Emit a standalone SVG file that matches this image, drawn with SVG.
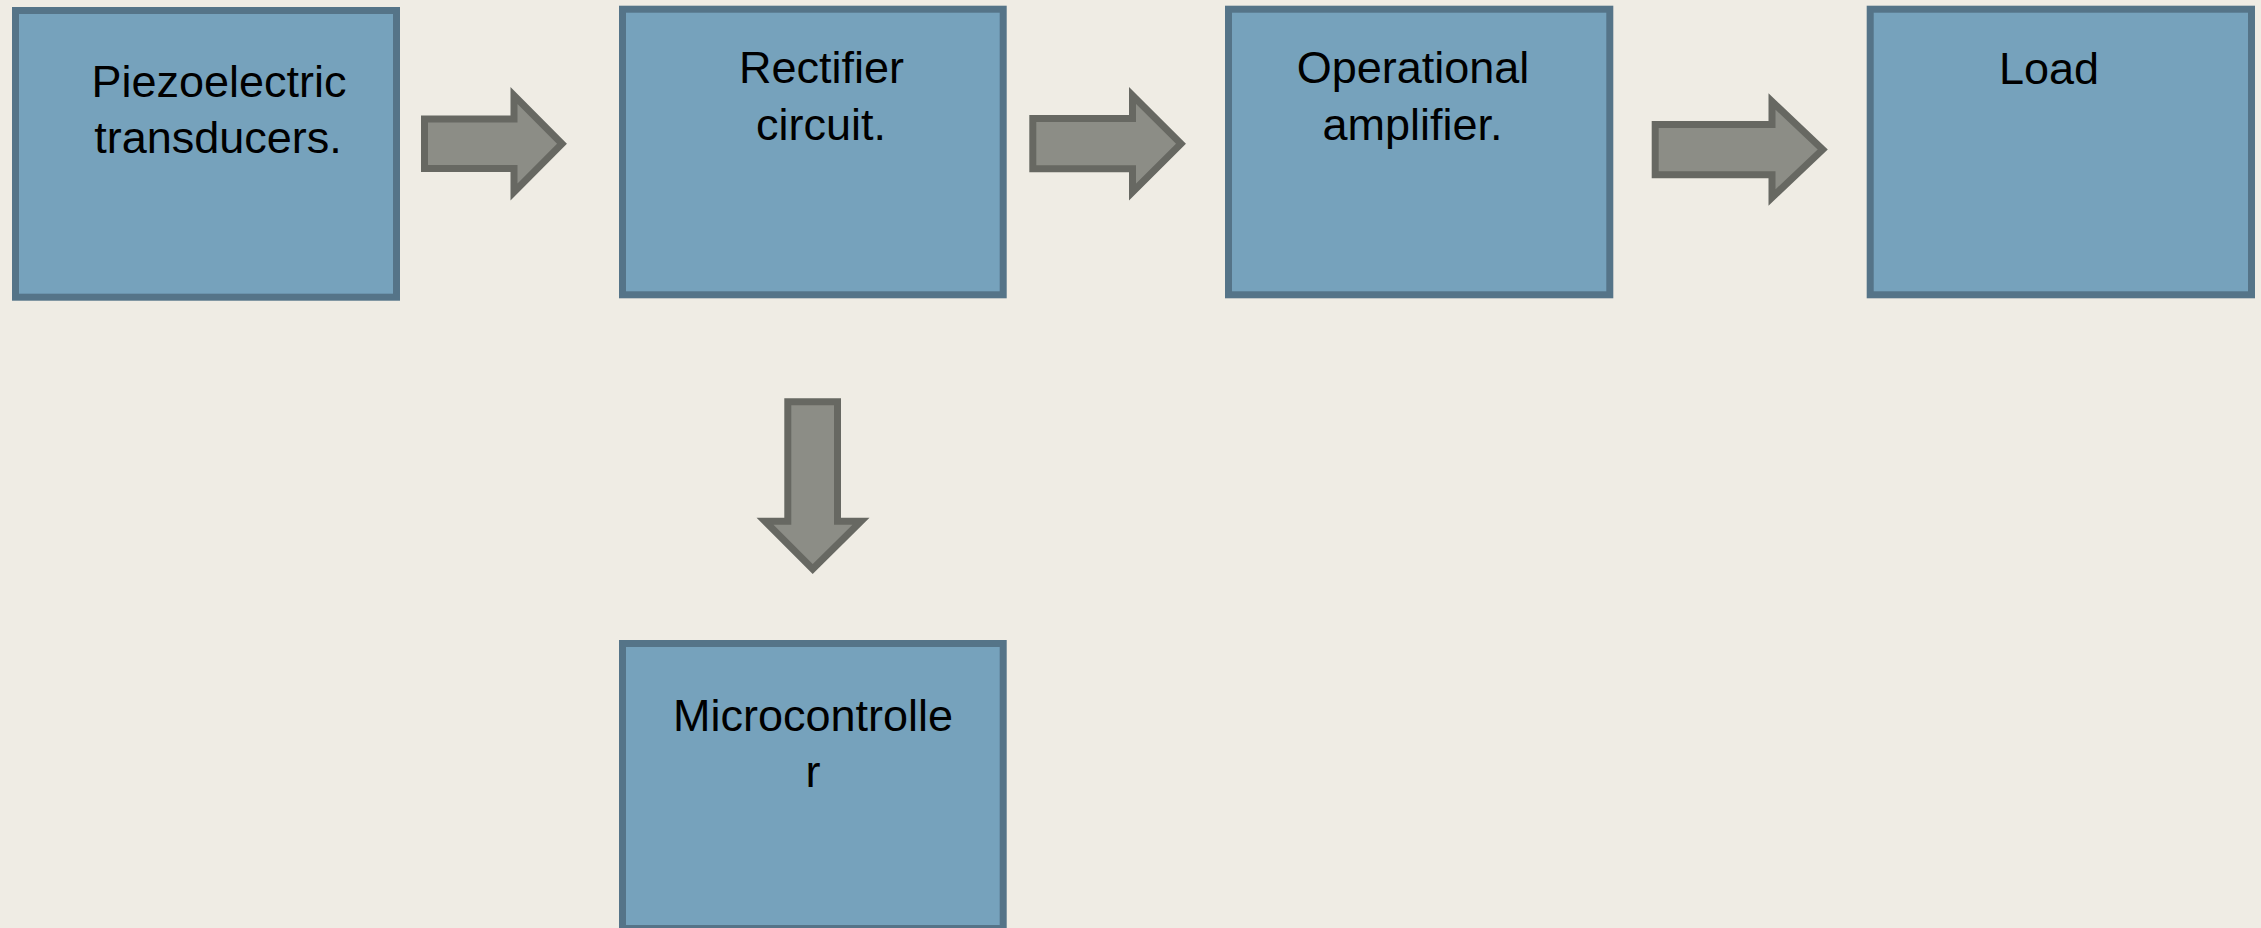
<svg xmlns="http://www.w3.org/2000/svg" width="2261" height="928" viewBox="0 0 2261 928">
<style>
.box{fill:#76A2BC;stroke:#557488;stroke-width:7}
.lbl{font-family:"Liberation Sans",Arial,sans-serif;font-size:45px;fill:#000;text-anchor:middle}
.arr{fill:#8C8D86;stroke:#676862;stroke-width:7;stroke-linejoin:miter;stroke-miterlimit:10}
</style>
<rect x="0" y="0" width="2261" height="928" fill="#EFECE4"/>
<g id="n1">
<rect class="box" x="15.5" y="10.5" width="381" height="286.7"/>
<text class="lbl" x="219" y="97">Piezoelectric</text>
<text class="lbl" x="218" y="153">transducers.</text>
</g>
<g id="n2">
<rect class="box" x="622.5" y="9.2" width="380.7" height="285.6"/>
<text class="lbl" x="821.5" y="83.3">Rectifier</text>
<text class="lbl" x="821" y="140">circuit.</text>
</g>
<g id="n3">
<rect class="box" x="1228.5" y="9.2" width="381.3" height="285.6"/>
<text class="lbl" x="1413" y="83.3">Operational</text>
<text class="lbl" x="1412.5" y="140">amplifier.</text>
</g>
<g id="n4">
<rect class="box" x="1870.2" y="9.2" width="381.3" height="285.6"/>
<text class="lbl" x="2049" y="84">Load</text>
</g>
<g id="n5">
<rect class="box" x="622.5" y="643.5" width="380.7" height="285"/>
<text class="lbl" x="813" y="731">Microcontrolle</text>
<text class="lbl" x="813" y="787">r</text>
</g>
<g id="connectors">
<polygon class="arr" points="424.5,119 514,119 514,95.5 562,143.7 514,192 514,168.5 424.5,168.5"/>
<polygon class="arr" points="1032.8,118.5 1132.5,118.5 1132.5,95.5 1181,143.7 1132.5,192 1132.5,168.8 1032.8,168.8"/>
<polygon class="arr" points="1655.2,124.5 1772,124.5 1772,101.5 1822.7,149.5 1772,197.5 1772,174.8 1655.2,174.8"/>
<polygon class="arr" points="787.8,401.8 837.5,401.8 837.5,521.2 861,521.2 812.7,569 765,521.2 787.8,521.2"/>
</g>
</svg>
